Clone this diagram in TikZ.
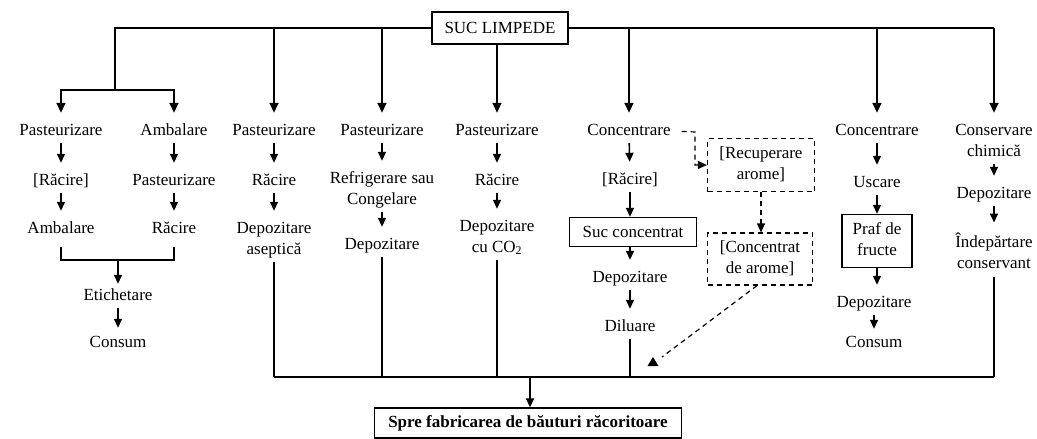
\documentclass[tikz,border=0pt]{standalone}
\usepackage{fontspec}
\setmainfont{Liberation Serif}
\usetikzlibrary{arrows.meta}
% uniform line strut: height 12pt, depth 4pt
\newcommand\lstr{\rule[-4pt]{0pt}{16pt}}
\tikzset{
  every node/.style={font=\fontsize{17}{21}\selectfont},
  lbl/.style={inner xsep=3pt, inner ysep=4pt, align=center},
  one/.style={lbl, text height=12pt, text depth=4pt},
  box/.style={draw, line width=1.4pt, fill=white, align=center, inner sep=0pt},
  dbox/.style={box, line width=1.2pt, dash pattern=on 5pt off 4pt},
  ln/.style={line width=1.6pt},
  arr/.style={ln, -{Triangle[width=9pt,length=10pt]}, shorten >=6pt},
  sarr/.style={ln, -{Triangle[width=8pt,length=9pt]}, shorten >=6pt},
  barr/.style={ln, -{Triangle[width=8pt,length=9pt]}},
  dsh/.style={line width=1.2pt, dash pattern=on 5pt off 4pt},
  darr/.style={dsh, -{Triangle[width=8pt,length=9pt]}},
}
\begin{document}
\begin{tikzpicture}[x=1pt,y=-1pt]
\useasboundingbox (0,0) rectangle (1037,439);

% --- source
\node[box, minimum width=136pt, minimum height=32pt] (suc) at (500,28) {SUC LIMPEDE};
\coordinate (tl) at (115,28);
\coordinate (tr) at (994,28);
\coordinate (j1) at (115,90);
\draw[ln] (suc.west) -- (tl) -- (j1);
\draw[ln] (suc.east) -- (tr);

% --- first row
\node[one] (p1) at (61,131) {Pasteurizare};
\node[one] (a2) at (174,131) {Ambalare};
\node[one] (p3) at (274,131) {Pasteurizare};
\node[one] (p4) at (382,131) {Pasteurizare};
\node[one] (p5) at (497,131) {Pasteurizare};
\node[one] (c6) at (629,131) {Concentrare};
\node[one] (c7) at (877,131) {Concentrare};
\node[lbl] (cc8) at (994,141.5) {\lstr Conservare\\\lstr chimică};

\draw[arr] (j1) -| (p1);
\draw[arr] (j1) -| (a2);
\draw[arr] (p3 |- tl) -- (p3);
\draw[arr] (p4 |- tl) -- (p4);
\draw[arr] (suc.south -| p5) -- (p5);
\draw[arr] (c6 |- tl) -- (c6);
\draw[arr] (c7 |- tl) -- (c7);
\draw[arr] (tr) -- (cc8);

% --- columns 1 and 2
\node[one] (r1) at (61,181) {[Răcire]};
\node[one] (a1) at (61,229) {Ambalare};
\node[one] (p2) at (174,181) {Pasteurizare};
\node[one] (r2) at (174,229) {Răcire};
\node[one] (et) at (118,296) {Etichetare};
\node[one] (cs1) at (118,343) {Consum};
\coordinate (jb) at (118,260);
\draw[sarr] (p1) -- (r1);
\draw[sarr] (r1) -- (a1);
\draw[sarr] (a2) -- (p2);
\draw[sarr] (p2) -- (r2);
\draw[ln] ([yshift=-6pt]a1.south) -- (a1 |- jb) -- (r2 |- jb) -- ([yshift=-6pt]r2.south);
\draw[barr] (jb) -- (et);
\draw[sarr, shorten >=3pt] (et) -- (cs1);

% --- column 3
\node[one] (r3) at (274,181) {Răcire};
\node[lbl] (d3) at (274,239.5) {\lstr Depozitare\\\lstr aseptică};
\draw[sarr] (p3) -- (r3);
\draw[sarr] (r3) -- (d3);

% --- column 4
\node[lbl] (rc4) at (382,189.5) {\lstr Refrigerare sau\\\lstr Congelare};
\node[one] (d4) at (382,245) {Depozitare};
\draw[sarr] (p4) -- (rc4);
\draw[sarr] (rc4) -- (d4);

% --- column 5
\node[one] (r5) at (497,181) {Răcire};
\node[lbl] (d5) at (497,237.5) {\lstr Depozitare\\\lstr cu CO\textsubscript{2}};
\draw[sarr] (p5) -- (r5);
\draw[sarr] (r5) -- (d5);

% --- column 6
\node[one] (r6) at (630,180) {[Răcire]};
\node[box, minimum width=127pt, minimum height=29pt] (sc) at (633,232) {Suc concentrat};
\node[one] (d6) at (630,278) {Depozitare};
\node[one] (dil) at (630,327) {Diluare};
\draw[sarr] (c6) -- (r6);
\draw[barr] (r6) -- (sc.north -| r6);
\draw[sarr] (sc.south -| d6) -- (d6);
\draw[sarr] (d6) -- (dil);

% --- aroma recovery (dashed)
\node[dbox, minimum width=107pt, minimum height=53pt] (rec) at (761,165) {\lstr [Recuperare\\\lstr arome]};
\node[dbox, minimum width=105pt, minimum height=52pt] (conc) at (760,259) {\lstr [Concentrat\\\lstr de arome]};
\coordinate (k1) at (695,132);
\coordinate (dt) at (662,357);
\draw[darr, shorten <=8pt] (c6.east) -- (k1) |- (rec);
\draw[darr] (rec.south) -- (rec.south |- conc.north);
\draw[dsh] ([xshift=-3pt]conc.south) -- (dt);
\fill (653,357) -- (658.5,366) -- (647.5,366) -- cycle;

% --- column 7
\node[one] (u7) at (877,183) {Uscare};
\node[box, minimum width=70pt, minimum height=53pt] (pf) at (877,241) {\lstr Praf de\\\lstr fructe};
\node[one] (d7) at (874,303) {Depozitare};
\node[one] (cs7) at (874,343) {Consum};
\draw[sarr] (c7) -- (u7);
\draw[barr] (u7) -- (pf);
\draw[sarr] (pf) -- (pf |- d7.north);
\draw[sarr, shorten >=2pt] (d7) -- (cs7);

% --- column 8
\node[one] (d8) at (994,194) {Depozitare};
\node[lbl] (ic8) at (994,252.5) {\lstr Îndepărtare\\\lstr conservant};
\draw[sarr] (cc8) -- (d8);
\draw[sarr] (d8) -- (ic8);

% --- collecting line and destination
\coordinate (bl) at (274,377);
\coordinate (br) at (994,377);
\coordinate (bm) at (530,377);
\draw[ln] (d3) -- (d3 |- bl);
\draw[ln] (d4) -- (d4 |- bl);
\draw[ln] (d5) -- (d5 |- bl);
\draw[ln] (dil) -- (dil |- bl);
\draw[ln] (ic8) -- (ic8 |- br);
\draw[ln] (bl) -- (br);
\node[box, minimum width=307pt, minimum height=30pt, font=\fontsize{17}{21}\selectfont\bfseries] (fin) at (528,423) {Spre fabricarea de băuturi răcoritoare};
\draw[barr] (bm) -- (bm |- fin.north);
\end{tikzpicture}
\end{document}
